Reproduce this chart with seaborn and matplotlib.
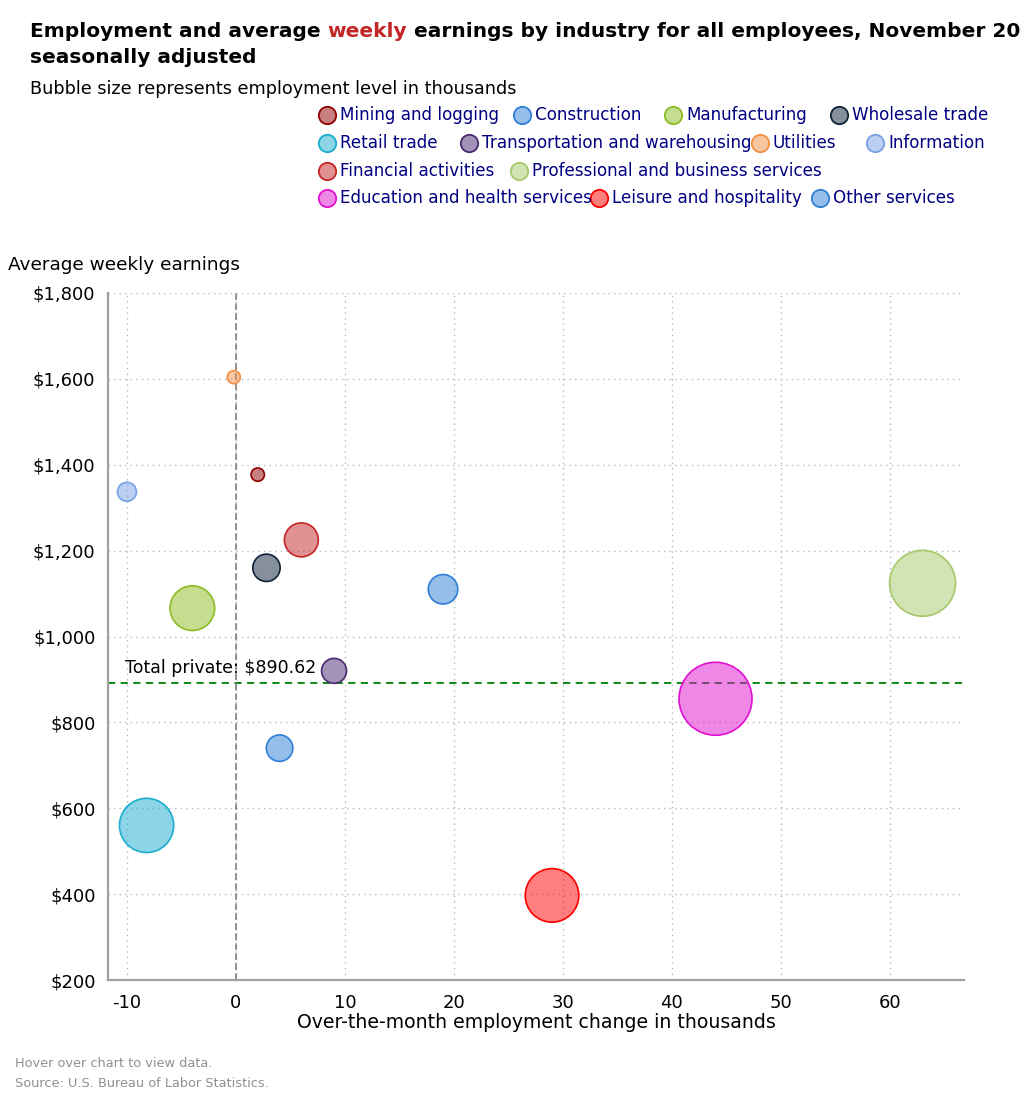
import numpy as np
import pandas as pd
import matplotlib
matplotlib.use("Agg")
import matplotlib.pyplot as plt
from matplotlib.lines import Line2D
from matplotlib.colors import to_rgba
import seaborn as sns

# ---------------- data ----------------
industries = ["Mining and logging", "Construction", "Manufacturing", "Wholesale trade",
              "Retail trade", "Transportation and warehousing", "Utilities", "Information",
              "Financial activities", "Professional and business services",
              "Education and health services", "Leisure and hospitality", "Other services"]
employment_change = [2.0, 19.0, -4.0, 2.8, -8.2, 9.0, -0.2, -10.0, 6.0, 63.0, 44.0, 29.0, 4.0]
weekly_earnings = [1377, 1110, 1066, 1160, 560, 920, 1604, 1337, 1225, 1124, 855, 397, 740]
employment_level = [680, 6700, 12330, 5900, 15900, 5000, 556, 2780, 8350, 20270, 22880, 15650, 5580]
edge_colors = ["#910000", "#2f7ed8", "#8bbc21", "#0d233a", "#1aadce", "#492970", "#f28f43",
               "#77a1e5", "#c42525", "#a6c96a", "#e010d0", "#ff0000", "#2f7ed8"]
total_private = 890.62
y_ticks = [200, 400, 600, 800, 1000, 1200, 1400, 1600, 1800]
x_ticks = [-10, 0, 10, 20, 30, 40, 50, 60]

df = pd.DataFrame({"industry": industries, "change": employment_change,
                   "earnings": weekly_earnings, "employment": employment_level})

W, H, DPI = 1024, 1111, 100
sns.set_style("white")
plt.rcParams["font.family"] = ["DejaVu Sans"]
plt.rcParams["text.color"] = "black"
plt.rcParams["axes.labelcolor"] = "black"
fig = plt.figure(figsize=(W / DPI, H / DPI), dpi=DPI)

ax = fig.add_axes([108 / W, 1 - 980 / H, (964 - 108) / W, (980 - 293) / H])

# bubble diameter grows linearly with employment level (13px .. 73px)
zmin, zmax = min(employment_level), max(employment_level)
px2pt = 72 / DPI
size_map = {z: ((13 + 60 * (z - zmin) / (zmax - zmin)) * px2pt) ** 2 for z in employment_level}

ax.axhline(total_private, color="#008000", lw=1.3, ls=(0, (4, 3)), zorder=1)
ax.axvline(0, color="#808080", lw=1.2, ls=(0, (4, 2)), zorder=1)

sns.scatterplot(data=df, x="change", y="earnings", hue="industry",
                palette=dict(zip(industries, edge_colors)), size="employment",
                sizes=size_map, legend=False, linewidth=1.2, ax=ax, zorder=3)
coll = ax.collections[-1]
fc = coll.get_facecolors()
coll.set_edgecolors(fc.copy())
fc2 = fc.copy()
fc2[:, 3] = 0.5
coll.set_facecolors(fc2)

ax.set_xlim(-11.74, 66.8)
ax.set_ylim(200, 1800)
ax.set_xticks(x_ticks)
ax.set_yticks(y_ticks)
ax.set_xticklabels([str(t) for t in x_ticks], fontsize=13)
ax.set_yticklabels([f"${t:,}" for t in y_ticks], fontsize=13)
ax.grid(True, color="#b8b8b8", ls=(0, (1, 3)), lw=1.0)
ax.set_axisbelow(True)
for s in ["top", "right"]:
    ax.spines[s].set_visible(False)
for s in ["left", "bottom"]:
    ax.spines[s].set_color("#a0a0a0")
    ax.spines[s].set_linewidth(1.6)
ax.tick_params(axis="y", length=7, width=1, color="#c0d0e0", pad=2, labelcolor="black")
ax.tick_params(axis="x", length=7, width=1, color="#c0d0e0", pad=3, labelcolor="black")
ax.set_xlabel("Over-the-month employment change in thousands", fontsize=13.6, labelpad=1)
ax.set_ylabel("")

ax.text(0.02, total_private + 14, f"Total private: ${total_private}", fontsize=12.5,
        transform=ax.get_yaxis_transform(), ha="left", va="bottom", color="black")

# titles (first line appears cut at "November 20" in the reference)
TS = 14.5
t1 = fig.text(30 / W, 1 - 37 / H, "Employment and average ", fontsize=TS, fontweight="bold",
              ha="left", va="baseline")
t2 = fig.text(0, 0, "weekly", fontsize=TS, fontweight="bold", color="#c42525", va="baseline")
t3 = fig.text(0, 0, " earnings by industry for all employees, November 20",
              fontsize=TS, fontweight="bold", va="baseline")
fig.canvas.draw()
r = fig.canvas.get_renderer()
bb1 = t1.get_window_extent(r)
t2.set_position(((bb1.x1) / W, 1 - 37 / H))
bb2 = t2.get_window_extent(r)
t3.set_position(((bb2.x1) / W, 1 - 37 / H))
fig.text(30 / W, 1 - 63 / H, "seasonally adjusted", fontsize=TS, fontweight="bold",
         ha="left", va="baseline")
fig.text(30 / W, 1 - 94 / H, "Bubble size represents employment level in thousands",
         fontsize=12.7, ha="left", va="baseline")
fig.text(8 / W, 1 - 270 / H, "Average weekly earnings", fontsize=13.3, ha="left", va="baseline")

# legend (Highcharts-style flowing rows)
legend_pos = [(327, 115), (522, 115), (673, 115), (839, 115),
              (327, 143), (469, 143), (760, 143), (875, 143),
              (327, 171), (519, 171),
              (327, 198), (599, 198), (820, 198)]
for name, col, (lx, ly) in zip(industries, edge_colors, legend_pos):
    fig.add_artist(Line2D([lx / W], [1 - ly / H], marker="o", markersize=12.5,
                          markerfacecolor=to_rgba(col, 0.5), markeredgecolor=col,
                          markeredgewidth=1.3, transform=fig.transFigure, ls="none"))
    fig.text((lx + 13) / W, 1 - ly / H, name, fontsize=12.1, color="#000080",
             ha="left", va="center")

fig.text(15 / W, 1 - 1067 / H, "Hover over chart to view data.", fontsize=9.3,
         color="#909090", ha="left", va="baseline")
fig.text(15 / W, 1 - 1087 / H, "Source: U.S. Bureau of Labor Statistics.", fontsize=9.3,
         color="#909090", ha="left", va="baseline")

fig.savefig("out.png", dpi=DPI)
